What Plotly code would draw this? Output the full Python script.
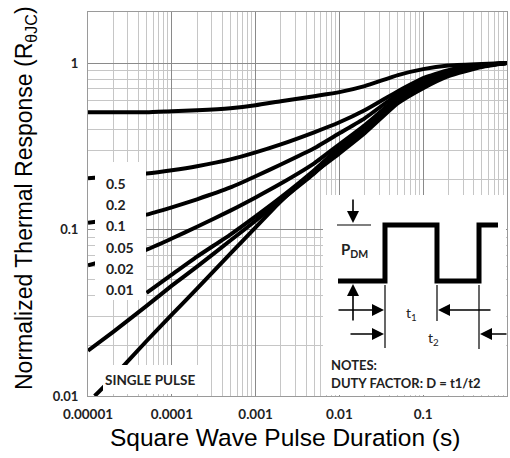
import plotly.graph_objects as go

# ---------------- data ----------------
t_grid = [1e-5, 2e-5, 5e-5, 1e-4, 2e-4, 5e-4, 1e-3, 2e-3, 5e-3,
          1e-2, 2e-2, 5e-2, 0.1, 0.2, 0.5, 1.0]
t_single = [1.2e-5, 2e-5, 5e-5, 1e-4, 2e-4, 5e-4, 1e-3, 2e-3, 5e-3,
            1e-2, 2e-2, 5e-2, 0.1, 0.2, 0.5, 1.0]

z_d50 = [0.507, 0.507, 0.507, 0.514, 0.521, 0.536, 0.558, 0.590, 0.633,
         0.669, 0.727, 0.847, 0.920, 0.966, 0.986, 1.0]
z_d20 = [0.203, 0.209, 0.217, 0.227, 0.240, 0.264, 0.291, 0.325, 0.384,
         0.441, 0.521, 0.678, 0.812, 0.908, 0.973, 1.0]
z_d10 = [0.110, 0.115, 0.123, 0.136, 0.152, 0.179, 0.209, 0.246, 0.308,
         0.379, 0.466, 0.651, 0.790, 0.895, 0.973, 1.0]
z_d05 = [0.061, 0.067, 0.0758, 0.0883, 0.104, 0.130, 0.156, 0.189, 0.250,
         0.325, 0.423, 0.624, 0.769, 0.883, 0.966, 1.0]
z_d02 = [None, None, 0.0417, 0.0536, 0.0688, 0.0933, 0.120, 0.156, 0.227,
         0.312, 0.406, 0.607, 0.747, 0.871, 0.959, 1.0]
z_d01 = [0.0187, 0.0243, 0.0348, 0.0460, 0.0598, 0.0859, 0.113, 0.150, 0.217,
         0.299, 0.395, 0.590, 0.727, 0.859, 0.959, 1.0]
z_single = [0.010, 0.0130, 0.0214, 0.0308, 0.0441, 0.0717, 0.103, 0.148, 0.220,
            0.287, 0.379, 0.574, 0.707, 0.835, 0.946, 1.0]

duty_labels = ["0.5", "0.2", "0.1", "0.05", "0.02", "0.01"]

x_tickvals = [1e-5, 1e-4, 1e-3, 1e-2, 1e-1, 1.0]
x_ticktext = ["0.00001", "0.0001", "0.001", "0.01", "0.1", "1"]
y_tickvals = [0.01, 0.1, 1.0]
y_ticktext = ["0.01", "0.1", "1"]

x_title = "Square Wave Pulse Duration (s)"
y_title = "Normalized Thermal Response (R<sub>θJC</sub>)"

# ---------------- geometry helpers ----------------
W, H = 510, 458
ML, MR, MT, MB = 88, 3, 12, 62
PW, PH = W - ML - MR, H - MT - MB


def fx(x):
    return (x - ML) / PW


def fy(y):
    return (H - MB - y) / PH


fig = go.Figure()

series = [(t_grid, z_d50), (t_grid, z_d20), (t_grid, z_d10), (t_grid, z_d05),
          (t_grid, z_d02), (t_grid, z_d01), (t_single, z_single)]
for tx, zy in series:
    fig.add_trace(go.Scatter(x=tx, y=zy, mode="lines",
                             line=dict(color="black", width=4, shape="spline", smoothing=0.5),
                             showlegend=False, hoverinfo="skip"))

minor_x = [k * 10 ** e for e in range(-5, 0) for k in range(2, 10)]
minor_y = [k * 10 ** e for e in range(-2, 1) for k in range(2, 10) if k * 10 ** e < 2.05]

fig.update_xaxes(type="log", range=[-5, 0], tickmode="array",
                 tickvals=x_tickvals, ticktext=x_ticktext,
                 showgrid=True, gridcolor="#8a8a8a", gridwidth=1,
                 minor=dict(tickmode="array", tickvals=minor_x, showgrid=True,
                            gridcolor="#c6c6c6", gridwidth=1, ticks=""),
                 showline=True, linecolor="#9a9a9a", linewidth=1, mirror=True,
                 ticks="", ticklabelstandoff=6, zeroline=False,
                 tickfont=dict(family="Lato", size=13.5, color="#222", weight="bold"))
fig.update_yaxes(type="log", range=[-2, 0.307], tickmode="array",
                 tickvals=y_tickvals, ticktext=y_ticktext,
                 showgrid=True, gridcolor="#8a8a8a", gridwidth=1,
                 minor=dict(tickmode="array", tickvals=minor_y, showgrid=True,
                            gridcolor="#c6c6c6", gridwidth=1, ticks=""),
                 showline=True, linecolor="#9a9a9a", linewidth=1, mirror=True,
                 ticks="", ticklabelstandoff=6, zeroline=False,
                 tickfont=dict(family="Lato", size=13, color="#222", weight="bold"))

shapes = []
# white boxes
shapes.append(dict(type="rect", xref="paper", yref="paper", layer="above",
                   x0=fx(95), x1=fx(146), y0=fy(300), y1=fy(162),
                   fillcolor="white", line=dict(width=0)))
shapes.append(dict(type="rect", xref="paper", yref="paper", layer="above",
                   x0=fx(103), x1=fx(200), y0=fy(394), y1=fy(365),
                   fillcolor="white", line=dict(width=0)))
shapes.append(dict(type="rect", xref="paper", yref="paper", layer="above",
                   x0=fx(323), x1=fx(506), y0=fy(395), y1=fy(195),
                   fillcolor="white", line=dict(width=0)))
# waveform
wave = [(338, 281), (385, 281), (385, 225), (437, 225), (437, 281),
        (479, 281), (479, 225), (498, 225)]
path = "M " + " L ".join(f"{fx(a):.4f},{fy(b):.4f}" for a, b in wave)
shapes.append(dict(type="path", xref="paper", yref="paper", layer="above",
                   path=path, line=dict(color="black", width=5)))
# thin lines
thin = [((337, 225), (371, 225)), ((385, 285), (385, 348)),
        ((437, 285), (437, 321)), ((479, 285), (479, 349))]
for (a, b), (c, d) in thin:
    shapes.append(dict(type="line", xref="paper", yref="paper", layer="above",
                       x0=fx(a), y0=fy(b), x1=fx(c), y1=fy(d),
                       line=dict(color="black", width=1.2)))

annotations = []
# axis titles
annotations.append(dict(text=x_title, xref="paper", yref="paper", x=fx(284.5), y=fy(437),
                        xanchor="center", yanchor="middle", showarrow=False,
                        font=dict(family="Liberation Sans", size=24.5, color="black")))
annotations.append(dict(text=y_title, xref="paper", yref="paper", x=fx(25), y=fy(198),
                        xanchor="center", yanchor="middle", showarrow=False, textangle=-90,
                        font=dict(family="Liberation Sans", size=23, color="black")))
# duty labels
for lab, ypix in zip(duty_labels, [183, 204, 225, 247, 268, 289]):
    annotations.append(dict(text=lab, xref="paper", yref="paper", x=fx(104), y=fy(ypix),
                            xanchor="left", yanchor="middle", showarrow=False,
                            font=dict(family="Lato", size=14, color="#222", weight="bold")))
annotations.append(dict(text="SINGLE PULSE", xref="paper", yref="paper", x=fx(103), y=fy(380),
                        xanchor="left", yanchor="middle", showarrow=False,
                        font=dict(family="Lato", size=13.5, color="#222", weight="bold")))
# inset texts
inset_font = dict(family="Lato", size=13, color="#222", weight="bold")
annotations.append(dict(text="P<sub>DM</sub>", xref="paper", yref="paper", x=fx(339), y=fy(250),
                        xanchor="left", yanchor="middle", showarrow=False,
                        font=dict(family="Lato", size=15, color="#222", weight="bold")))
annotations.append(dict(text="t<sub>1</sub>", xref="paper", yref="paper", x=fx(404), y=fy(313),
                        xanchor="left", yanchor="middle", showarrow=False,
                        font=dict(family="Lato", size=14, color="#222")))
annotations.append(dict(text="t<sub>2</sub>", xref="paper", yref="paper", x=fx(426), y=fy(338),
                        xanchor="left", yanchor="middle", showarrow=False,
                        font=dict(family="Lato", size=14, color="#222")))
annotations.append(dict(text="NOTES:", xref="paper", yref="paper", x=fx(329), y=fy(365),
                        xanchor="left", yanchor="middle", showarrow=False, font=inset_font))
annotations.append(dict(text="DUTY FACTOR: D = t1/t2", xref="paper", yref="paper", x=fx(329),
                        y=fy(383), xanchor="left", yanchor="middle", showarrow=False,
                        font=inset_font))
# arrows: (head, tail)
arrows = [((353, 223), (353, 198)), ((353, 284), (353, 322)),
          ((384, 310), (337, 310)), ((438, 310), (492, 310)),
          ((384, 334), (349, 334)), ((480, 334), (508, 334))]
for (hx, hy), (tx_, ty_) in arrows:
    annotations.append(dict(text="", xref="paper", yref="paper", x=fx(hx), y=fy(hy),
                            ax=tx_ - hx, ay=ty_ - hy, showarrow=True, arrowhead=2,
                            arrowsize=1.5, arrowwidth=1.6, arrowcolor="black", standoff=0))

fig.update_layout(width=W, height=H, margin=dict(l=ML, r=MR, t=MT, b=MB),
                  paper_bgcolor="white", plot_bgcolor="white",
                  shapes=shapes, annotations=annotations, showlegend=False)

fig.write_html("out.html")
